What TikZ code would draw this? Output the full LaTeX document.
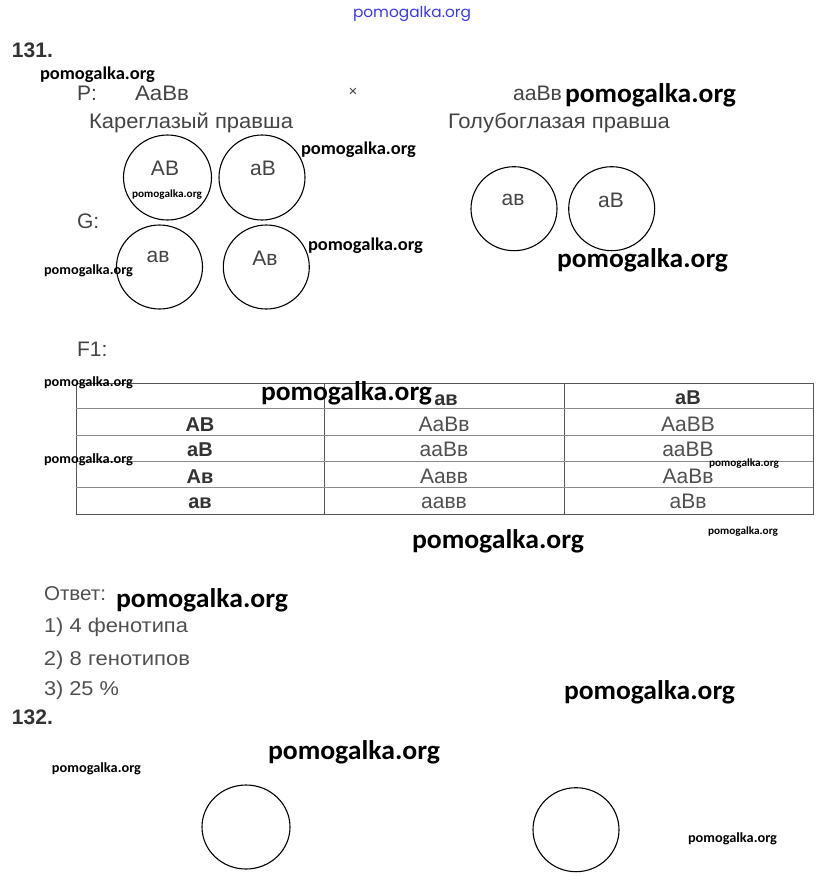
\documentclass[tikz,border=0pt]{standalone}
\usepackage{fontspec}
\setmainfont{Liberation Sans}
\newfontfamily\wmfont{Carlito}
\newfontfamily\topfont{Poppins}
\usepackage{graphicx}
\usetikzlibrary{shapes.geometric}
\definecolor{txt}{HTML}{444444}
\definecolor{txtl}{HTML}{505050}
\definecolor{txtd}{HTML}{333333}
\definecolor{topblue}{HTML}{3A3ADD}
\definecolor{grid}{HTML}{555555}
\definecolor{gridl}{HTML}{8A8A8A}
\newcommand\fitw[2]{\resizebox{#1}{\height}{#2}}
\newcommand\wmk[1]{\resizebox{#1}{\height}{pomogalka.org}}
\begin{document}
\begin{tikzpicture}[x=1pt,y=-1pt,
  every node/.style={inner sep=0pt, outer sep=0pt},
  wm/.style={font=\wmfont\bfseries\fontsize{#1}{#1}\selectfont, anchor=base west, text=black},
  gt/.style={font=\fontsize{21}{21}\selectfont, text=txt, anchor=base west},
  num/.style={font=\bfseries\fontsize{21}{21}\selectfont, text=txtd, anchor=base west},
  gam/.style={ellipse, draw=black, line width=1.1pt, minimum width=86pt, minimum height=84pt},
  gtx/.style={font=\fontsize{21}{21}\selectfont, text=txt},
  cell/.style={font=\fontsize{21}{21}\selectfont, text=txtl, anchor=base},
  hcell/.style={font=\bfseries\fontsize{20}{20}\selectfont, text=txtd, anchor=base},
  rcell/.style={font=\bfseries\fontsize{20}{20}\selectfont, text=txtd, anchor=base},
  ans/.style={font=\fontsize{20}{20}\selectfont, text=txtl, anchor=base west}]
\useasboundingbox[fill=white] (0,0) rectangle (822,887);

% top watermark
\node[font=\topfont\fontsize{15}{15}\selectfont, text=topblue, anchor=base west] (top) at (353,17) {\fitw{118pt}{pomogalka.org}};

% 131
\node[num] (n131) at (12,57) {131.};
\node[wm=18] (w1) at (40,79) {\wmk{115pt}};
\node[gt] (P) at (77,100) {P:};
\node[gt] (p1) at (135,100) {\fitw{54pt}{AaBв}};
\node[font=\fontsize{15}{15}\selectfont, text=txt] (cross) at (353,92) {×};
\node[gt] (p2) at (513,100) {\fitw{49pt}{aaBв}};
\node[wm=27] (w2) at (565,102) {\wmk{171pt}};
\node[gt] (d1) at (89,128) {\fitw{204pt}{Кареглазый правша}};
\node[gt] (d2) at (448,128) {\fitw{222pt}{Голубоглазая правша}};

% gametes
\node[gam, minimum width=88pt, minimum height=85pt] (g1) at (167.5,177.5) {};
\node[gam, minimum height=85pt] (g2) at (262,177.5) {};
\node[gam] (g3) at (159.5,267) {};
\node[gam] (g4) at (266.3,267) {};
\node[gam] (g5) at (514,208.7) {};
\node[gam] (g6) at (611.7,208.7) {};
\node[gtx] (t1) at (165,168) {AB};
\node[gtx] (t2) at (263,168) {aB};
\node[gtx] (t3) at (158,257) {aв};
\node[gtx] (t4) at (265,258) {Aв};
\node[gtx] (t5) at (513,200) {aв};
\node[gtx] (t6) at (611,200) {aB};
\node[gt] (G) at (77,228) {G:};

\node[wm=11] (w4) at (132,197) {\wmk{70pt}};
\node[wm=18] (w3) at (301,154) {\wmk{115pt}};
\node[wm=18] (w5) at (308,250) {\wmk{115pt}};
\node[wm=14] (w6) at (44,274) {\wmk{89pt}};
\node[wm=27] (w7) at (557,267) {\wmk{171pt}};

% F1
\node[gt] (F1) at (77,356) {F1:};

% table
\draw[grid, line width=0.9pt] (76,383) rectangle (813,514);
\draw[grid, line width=0.9pt] (324,383) -- (324,514) (564,383) -- (564,514);
\foreach \yy in {408,435,461,487}
  \draw[gridl, line width=0.9pt] (76,\yy) -- (813,\yy);

\node[hcell] (h2) at (446,405) {aв};
\node[hcell] (h3) at (688,404) {aB};
\node[rcell] (r1) at (200,431) {AB};
\node[cell] (c12) at (444,431) {AaBв};
\node[cell] (c13) at (688,431) {AaBB};
\node[rcell] (r2) at (200,456) {aB};
\node[cell] (c22) at (444,456) {aaBв};
\node[cell] (c23) at (688,456) {aaBB};
\node[rcell] (r3) at (200,483) {Aв};
\node[cell] (c32) at (444,483) {Aaвв};
\node[cell] (c33) at (688,483) {AaBв};
\node[rcell] (r4) at (200,508) {aв};
\node[cell] (c42) at (444,508) {aaвв};
\node[cell] (c43) at (688,508) {aBв};

\node[wm=14] (w8) at (44,386) {\wmk{89pt}};
\node[wm=27] (w9) at (261,400) {\wmk{171pt}};
\node[wm=14] (w10) at (44,463) {\wmk{89pt}};
\node[wm=11] (w11) at (709,466) {\wmk{70pt}};
\node[wm=27] (w12) at (412,548) {\wmk{172pt}};
\node[wm=11] (w13) at (708,534) {\wmk{70pt}};

% answer
\node[ans] (a0) at (44,600) {\fitw{62pt}{Ответ:}};
\node[wm=27] (w14) at (116,607) {\wmk{172pt}};
\node[ans] (a1) at (44,632) {\fitw{144pt}{1) 4 фенотипа}};
\node[ans] (a2) at (44,665) {\fitw{146pt}{2) 8 генотипов}};
\node[ans] (a3) at (44,695) {\fitw{75pt}{3) 25 \%}};
\node[wm=27] (w15) at (564,699) {\wmk{171pt}};

% 132
\node[num] (n132) at (12,724) {132.};
\node[wm=27] (w16) at (268,759) {\wmk{172pt}};
\node[wm=14] (w17) at (52,772) {\wmk{89pt}};
\node[gam, minimum width=88pt] (b1) at (246,827) {};
\node[gam] (b2) at (576,829.7) {};
\node[wm=14] (w18) at (688,842) {\wmk{89pt}};
\end{tikzpicture}
\end{document}
